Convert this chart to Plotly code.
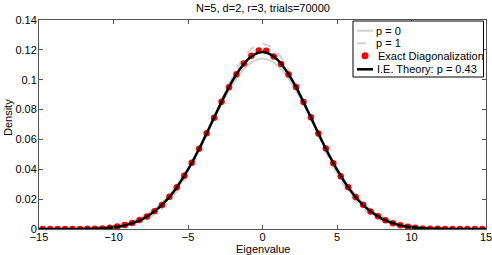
import plotly.graph_objects as go

# Curves sampled on a 0.5 grid from -15 to 15
x_curve = [i * 0.5 for i in range(-30, 31)]

# half-curves from 0 to 15 (symmetric)
p0_half = [0.1142, 0.1130, 0.1096, 0.1041, 0.0969, 0.0884, 0.0790, 0.0691, 0.0593, 0.0498,
           0.0410, 0.0331, 0.0261, 0.0202, 0.0153, 0.0114, 0.0083, 0.0059, 0.0041, 0.0028,
           0.0019, 0.0012, 0.0008, 0.0005, 0.0003, 0.0002, 0.0001, 0.0, 0.0, 0.0, 0.0]
p1_half = [0.1239, 0.1224, 0.1181, 0.1111, 0.1021, 0.0916, 0.0802, 0.0686, 0.0572, 0.0466,
           0.0370, 0.0287, 0.0218, 0.0161, 0.0116, 0.0082, 0.0056, 0.0038, 0.0025, 0.0016,
           0.0010, 0.0006, 0.0004, 0.0002, 0.0001, 0.0, 0.0, 0.0, 0.0, 0.0, 0.0]
theory_half = [0.1185, 0.1172, 0.1134, 0.1074, 0.0995, 0.0902, 0.0799, 0.0693, 0.0588, 0.0489,
               0.0397, 0.0316, 0.0245, 0.0186, 0.0138, 0.0100, 0.0070, 0.0048, 0.0031, 0.0019,
               0.0011, 0.0006, 0.0003, 0.0002, 0.0001, 0.0, 0.0, 0.0, 0.0, 0.0, 0.0]

p0_vals = p0_half[:0:-1] + p0_half
p1_vals = p1_half[:0:-1] + p1_half
theory_vals = theory_half[:0:-1] + theory_half

# Exact diagonalization histogram (bin centres -14.75 ... 14.75)
x_exact = [-14.75 + 0.5 * k for k in range(60)]
exact_vals = [0.0, 0.0, 0.0, 0.0, 0.0, 0.0, 0.0001, 0.0002, 0.0004, 0.0008,
              0.0016, 0.0026, 0.0040, 0.0060, 0.0084, 0.0119, 0.0161, 0.0216, 0.0280, 0.0356,
              0.0443, 0.0537, 0.0642, 0.0746, 0.0852, 0.0949, 0.1037, 0.1108, 0.1160, 0.1196,
              0.1194, 0.1155, 0.1106, 0.1035, 0.0951, 0.0850, 0.0748, 0.0640, 0.0539, 0.0441,
              0.0354, 0.0279, 0.0214, 0.0163, 0.0117, 0.0085, 0.0058, 0.0039, 0.0025, 0.0015,
              0.0008, 0.0004, 0.0002, 0.0001, 0.0, 0.0, 0.0, 0.0, 0.0, 0.0]

x_ticks = [-15, -10, -5, 0, 5, 10, 15]
y_ticks = [0, 0.02, 0.04, 0.06, 0.08, 0.1, 0.12, 0.14]
y_ticklabels = ["0", "0.02", "0.04", "0.06", "0.08", "0.1", "0.12", "0.14"]

legend_names = ["p = 0", "p = 1", "Exact Diagonalization", "I.E. Theory: p = 0.43"]

W, H = 492, 255
ML, MR, MT, MB = 39, 6, 20, 26
PW, PH = W - ML - MR, H - MT - MB


def px(xpix):
    return (xpix - ML) / PW


def py(ypix):
    return (H - MB - ypix) / PH


FONT = "Liberation Sans, Arial, Helvetica, sans-serif"

fig = go.Figure()
fig.add_trace(go.Scatter(x=x_curve, y=p0_vals, mode="lines", name=legend_names[0],
                         line=dict(color="#d2d2d2", width=2, shape="spline")))
fig.add_trace(go.Scatter(x=x_curve, y=p1_vals, mode="lines", name=legend_names[1],
                         line=dict(color="#d2d2d2", width=2, dash="dash", shape="spline")))
fig.add_trace(go.Scatter(x=x_exact, y=exact_vals, mode="markers", name=legend_names[2],
                         marker=dict(color="#ff0000", size=6.5, line=dict(width=0))))
fig.add_trace(go.Scatter(x=x_curve, y=theory_vals, mode="lines", name=legend_names[3],
                         line=dict(color="#000000", width=2.5, shape="spline")))

# custom MATLAB-style legend box
shapes = [dict(type="rect", xref="paper", yref="paper", layer="above",
               x0=px(353), x1=px(483.5), y0=py(77), y1=py(21),
               fillcolor="white", line=dict(color="#000000", width=1))]
row_y = [30.7, 43.3, 55.8, 69.3]
shapes.append(dict(type="line", xref="paper", yref="paper", layer="above",
                   x0=px(357), x1=px(373), y0=py(row_y[0]), y1=py(row_y[0]),
                   line=dict(color="#d2d2d2", width=2)))
shapes.append(dict(type="line", xref="paper", yref="paper", layer="above",
                   x0=px(357), x1=px(373), y0=py(row_y[1]), y1=py(row_y[1]),
                   line=dict(color="#d2d2d2", width=2, dash="dash")))
shapes.append(dict(type="circle", xref="paper", yref="paper", layer="above",
                   x0=px(361.5), x1=px(368.5), y0=py(row_y[2] + 3.5), y1=py(row_y[2] - 3.5),
                   fillcolor="#ff0000", line=dict(width=0)))
shapes.append(dict(type="line", xref="paper", yref="paper", layer="above",
                   x0=px(357), x1=px(373), y0=py(row_y[3]), y1=py(row_y[3]),
                   line=dict(color="#000000", width=2.5)))

annotations = []
text_x = [373.5, 373.5, 375.5, 375]
for name, yy, xx in zip(legend_names, row_y, text_x):
    annotations.append(dict(text=name, xref="paper", yref="paper", x=px(xx), y=py(yy),
                            xanchor="left", yanchor="middle", showarrow=False,
                            font=dict(family=FONT, size=11, color="#000000")))
# axis titles and title
annotations.append(dict(text="Eigenvalue", xref="paper", yref="paper", x=px(262.5), y=py(249.5),
                        xanchor="center", yanchor="middle", showarrow=False,
                        font=dict(family=FONT, size=11, color="#000000")))
annotations.append(dict(text="Density", xref="paper", yref="paper", x=px(8), y=py(117),
                        xanchor="center", yanchor="middle", showarrow=False, textangle=-90,
                        font=dict(family=FONT, size=11, color="#000000")))
annotations.append(dict(text="N=5, d=2, r=3, trials=70000", xref="paper", yref="paper",
                        x=px(262.5), y=py(8), xanchor="center", yanchor="middle", showarrow=False,
                        font=dict(family=FONT, size=11, color="#000000")))

fig.update_layout(
    width=W, height=H,
    margin=dict(l=ML, r=MR, t=MT, b=MB, autoexpand=False),
    paper_bgcolor="white", plot_bgcolor="white",
    font=dict(family=FONT, size=11, color="#000000"),
    showlegend=False,
    hovermode=False,
    shapes=shapes,
    annotations=annotations,
)
fig.update_xaxes(range=[-15, 15], tickvals=x_ticks, ticks="inside", ticklen=4,
                 tickcolor="#555555", showline=True, linecolor="#555555", linewidth=1,
                 mirror="ticks", showgrid=False, zeroline=False, automargin=False,
                 ticklabeloverflow="allow", ticklabelstandoff=-2)
fig.update_yaxes(range=[0, 0.14], tickvals=y_ticks, ticktext=y_ticklabels, ticks="inside",
                 ticklen=4, tickcolor="#555555", showline=True, linecolor="#555555", linewidth=1,
                 mirror="ticks", showgrid=False, zeroline=False, automargin=False,
                 ticklabeloverflow="allow", ticklabelstandoff=-1)

fig.write_html("out.html", config={"displayModeBar": False},
               post_script="document.body.style.margin='0px';")
